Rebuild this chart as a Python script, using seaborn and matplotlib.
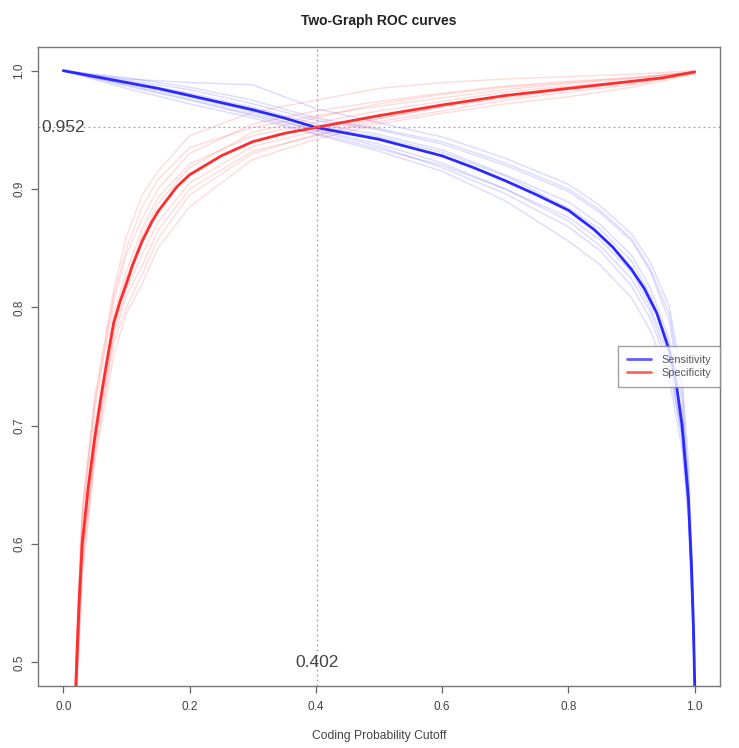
import numpy as np
import pandas as pd
import matplotlib
matplotlib.use("Agg")
import matplotlib.pyplot as plt
import seaborn as sns
from matplotlib.lines import Line2D

# ---- mean curves (averaged over folds) ----
sens_mean_x = [0.0, 0.05, 0.1, 0.15, 0.2, 0.25, 0.3, 0.35, 0.4, 0.45, 0.5, 0.55, 0.6, 0.65,
               0.7, 0.75, 0.8, 0.84, 0.87, 0.9, 0.92, 0.94, 0.96, 0.97, 0.98, 0.99, 0.995,
               0.998, 1.0, 1.0]
sens_mean = [1.0, 0.995, 0.990, 0.985, 0.979, 0.973, 0.967, 0.960, 0.952, 0.947, 0.942, 0.935,
             0.928, 0.918, 0.907, 0.895, 0.882, 0.866, 0.851, 0.832, 0.816, 0.795, 0.763, 0.738,
             0.700, 0.638, 0.580, 0.530, 0.480, 0.0]
spec_mean_x = [0.0, 0.01, 0.015, 0.02, 0.025, 0.03, 0.04, 0.05, 0.06, 0.07, 0.08, 0.09, 0.1,
               0.11, 0.125, 0.14, 0.15, 0.16, 0.18, 0.2, 0.25, 0.3, 0.35, 0.4, 0.5, 0.6, 0.7,
               0.8, 0.9, 0.95, 1.0]
spec_mean = [0.0, 0.25, 0.38, 0.48, 0.55, 0.60, 0.65, 0.69, 0.725, 0.757, 0.787, 0.805, 0.820,
             0.836, 0.856, 0.872, 0.881, 0.888, 0.902, 0.912, 0.928, 0.940, 0.947, 0.952, 0.962,
             0.971, 0.979, 0.985, 0.991, 0.994, 0.999]

# ---- individual cross-validation folds ----
sens_x = [0.0, 0.1, 0.2, 0.3, 0.4, 0.5, 0.6, 0.7, 0.8, 0.85, 0.9, 0.93, 0.96, 0.98, 0.99, 0.996, 1.0, 1.0]
spec_x = [0.0, 0.012, 0.02, 0.03, 0.05, 0.08, 0.1, 0.125, 0.15, 0.2, 0.3, 0.4, 0.5, 0.6, 0.7, 0.8, 0.9, 1.0]
sens_folds = [
    [1.0, 0.993, 0.990, 0.988, 0.968, 0.956, 0.944, 0.926, 0.904, 0.886, 0.862, 0.838, 0.800, 0.740, 0.670, 0.58, 0.48, 0.0],
    [1.0, 0.992, 0.984, 0.972, 0.958, 0.950, 0.938, 0.920, 0.898, 0.880, 0.856, 0.830, 0.788, 0.720, 0.650, 0.565, 0.48, 0.0],
    [1.0, 0.988, 0.976, 0.963, 0.950, 0.938, 0.922, 0.900, 0.873, 0.852, 0.824, 0.796, 0.752, 0.690, 0.630, 0.548, 0.48, 0.0],
    [1.0, 0.985, 0.972, 0.960, 0.946, 0.932, 0.915, 0.890, 0.856, 0.836, 0.808, 0.780, 0.738, 0.680, 0.620, 0.540, 0.48, 0.0],
    [1.0, 0.991, 0.981, 0.969, 0.955, 0.946, 0.933, 0.912, 0.889, 0.870, 0.844, 0.816, 0.772, 0.710, 0.645, 0.558, 0.48, 0.0],
    [1.0, 0.989, 0.978, 0.965, 0.949, 0.936, 0.918, 0.896, 0.868, 0.848, 0.818, 0.790, 0.748, 0.690, 0.625, 0.545, 0.48, 0.0],
    [1.0, 0.990, 0.980, 0.966, 0.953, 0.944, 0.931, 0.911, 0.884, 0.866, 0.839, 0.810, 0.768, 0.705, 0.640, 0.552, 0.48, 0.0],
    [1.0, 0.987, 0.975, 0.962, 0.947, 0.934, 0.920, 0.900, 0.876, 0.857, 0.830, 0.800, 0.758, 0.695, 0.632, 0.550, 0.48, 0.0],
    [1.0, 0.994, 0.986, 0.975, 0.960, 0.951, 0.940, 0.922, 0.900, 0.882, 0.858, 0.832, 0.794, 0.730, 0.655, 0.562, 0.48, 0.0],
]
spec_folds = [
    [0.0, 0.33, 0.51, 0.63, 0.725, 0.815, 0.86, 0.895, 0.915, 0.945, 0.965, 0.975, 0.985, 0.990, 0.993, 0.995, 0.997, 1.0],
    [0.0, 0.32, 0.50, 0.62, 0.715, 0.805, 0.845, 0.875, 0.90, 0.930, 0.955, 0.966, 0.974, 0.981, 0.987, 0.991, 0.994, 0.999],
    [0.0, 0.29, 0.47, 0.585, 0.68, 0.775, 0.81, 0.835, 0.865, 0.900, 0.932, 0.945, 0.957, 0.966, 0.975, 0.982, 0.988, 0.998],
    [0.0, 0.28, 0.455, 0.57, 0.67, 0.76, 0.795, 0.82, 0.85, 0.885, 0.925, 0.942, 0.955, 0.964, 0.972, 0.978, 0.986, 0.997],
    [0.0, 0.31, 0.49, 0.61, 0.70, 0.795, 0.83, 0.866, 0.893, 0.921, 0.945, 0.956, 0.966, 0.974, 0.982, 0.987, 0.991, 0.999],
    [0.0, 0.295, 0.475, 0.59, 0.685, 0.78, 0.815, 0.845, 0.872, 0.905, 0.936, 0.949, 0.960, 0.969, 0.977, 0.984, 0.989, 0.998],
    [0.0, 0.325, 0.50, 0.625, 0.72, 0.81, 0.85, 0.885, 0.908, 0.935, 0.952, 0.962, 0.970, 0.977, 0.984, 0.989, 0.993, 0.999],
    [0.0, 0.285, 0.465, 0.58, 0.675, 0.77, 0.80, 0.828, 0.858, 0.895, 0.930, 0.946, 0.959, 0.970, 0.979, 0.986, 0.991, 0.999],
    [0.0, 0.30, 0.485, 0.605, 0.695, 0.79, 0.825, 0.86, 0.888, 0.918, 0.948, 0.960, 0.972, 0.980, 0.986, 0.990, 0.994, 0.999],
]

cutoff_opt = 0.402
value_opt = 0.952
x_ticks = [0.0, 0.2, 0.4, 0.6, 0.8, 1.0]
y_ticks = [0.5, 0.6, 0.7, 0.8, 0.9, 1.0]
metrics = ["Sensitivity", "Specificity"]
colors = {"Sensitivity": "#2a2aff", "Specificity": "#ff2e2e"}

# ---- long-form tables ----
rows = []
for i, ys in enumerate(sens_folds):
    rows += [("Sensitivity", i, x, y) for x, y in zip(sens_x, ys)]
for i, ys in enumerate(spec_folds):
    rows += [("Specificity", i, x, y) for x, y in zip(spec_x, ys)]
folds_df = pd.DataFrame(rows, columns=["metric", "fold", "cutoff", "value"])

mean_df = pd.concat([
    pd.DataFrame({"metric": "Sensitivity", "cutoff": sens_mean_x, "value": sens_mean}),
    pd.DataFrame({"metric": "Specificity", "cutoff": spec_mean_x, "value": spec_mean}),
], ignore_index=True)

sns.set_style("white")
plt.rcParams["font.family"] = ["Liberation Sans", "DejaVu Sans"]

fig = plt.figure(figsize=(7.39, 7.48), dpi=100)
ax = fig.add_axes([38 / 739, 1 - 686 / 748, 682 / 739, 639 / 748])

sns.lineplot(data=folds_df, x="cutoff", y="value", hue="metric", units="fold",
             estimator=None, sort=False, palette=colors, hue_order=metrics,
             alpha=0.17, linewidth=1.0, legend=False, ax=ax)
sns.lineplot(data=mean_df, x="cutoff", y="value", hue="metric", estimator=None,
             sort=False, palette=colors, hue_order=metrics, linewidth=2.0,
             legend=False, ax=ax)

ax.axhline(value_opt, color="#a0a0a0", linestyle=(0, (1.5, 2.5)), linewidth=0.9)
ax.axvline(cutoff_opt, color="#a0a0a0", linestyle=(0, (1.5, 2.5)), linewidth=0.9)

ax.text(0.0, value_opt, f"{value_opt:.3f}", ha="center", va="center",
        fontsize=12.5, color="#444444")
ax.text(cutoff_opt, 0.5, f"{cutoff_opt:.3f}", ha="center", va="center",
        fontsize=12.5, color="#444444")

ax.set_xlim(-0.04, 1.04)
ax.set_ylim(0.48, 1.02)
ax.set_xticks(x_ticks)
ax.set_xticklabels([f"{t:.1f}" for t in x_ticks])
ax.set_yticks(y_ticks)
ax.set_yticklabels([f"{t:.1f}" for t in y_ticks], rotation=90, va="center")
ax.tick_params(axis="both", direction="out", length=5, width=0.9,
               color="#666666", labelsize=8.5, labelcolor="#444444",
               bottom=True, left=True)
ax.tick_params(axis="x", pad=6)
ax.tick_params(axis="y", pad=4)
for s in ax.spines.values():
    s.set_color("#777777")
    s.set_linewidth(1.0)

ax.set_xlabel("Coding Probability Cutoff", fontsize=8.7, color="#444444", labelpad=12)
ax.set_ylabel("")
ax.set_title("Two-Graph ROC curves", fontsize=10, fontweight="bold",
             color="#222222", pad=16)

handles = [Line2D([0], [0], color=colors[m], lw=2.0, alpha=0.75) for m in metrics]
leg = ax.legend(handles, metrics, loc="center right", borderaxespad=0.0,
                fontsize=7.8, frameon=True, fancybox=False, handlelength=2.2,
                labelspacing=0.3, borderpad=0.8, handletextpad=1.0,
                labelcolor="#555555")
leg.get_frame().set_edgecolor("#888888")
leg.get_frame().set_linewidth(1.0)

fig.savefig("out.png", dpi=100)
